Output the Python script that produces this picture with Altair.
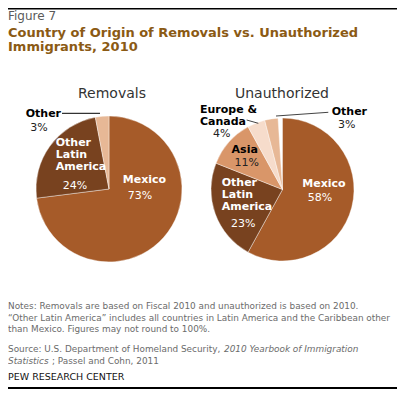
import altair as alt
import pandas as pd

# ---- data ----
rem_cats = ["Mexico", "Other Latin America", "Other"]
rem_vals = [73, 24, 3]
una_cats = ["Mexico", "Other Latin America", "Asia", "Europe & Canada", "Other"]
una_vals = [58, 23, 11, 4, 3]

color_domain = ["Mexico", "Other Latin America", "Asia", "Europe & Canada", "Other"]
color_range = ["#A65B29", "#78421F", "#D99669", "#F6DCCB", "#E7B896"]

W, H = 389, 381
FONT = "DejaVu Sans"
NS = 8.9  # notes font size

rem_df = pd.DataFrame({"cat": rem_cats, "val": rem_vals, "ord": list(range(len(rem_cats)))})
una_df = pd.DataFrame({"cat": una_cats, "val": una_vals, "ord": list(range(len(una_cats)))})

color = alt.Color("cat:N", scale=alt.Scale(domain=color_domain, range=color_range), legend=None)


def pie(df, cx, cy, r):
    return alt.Chart(df).mark_arc(radius=r, stroke="#ffffff", strokeWidth=0.4).encode(
        theta=alt.Theta("val:Q", stack=True),
        order=alt.Order("ord:Q"),
        color=color,
        x=alt.value(cx),
        y=alt.value(cy),
    )


# ---- texts ----
texts = [
    # text, x, y, size, weight, color, align, style
    ("Figure 7", 0, 12, 12, "normal", "#5a5a5a", "left", "normal"),
    ("Country of Origin of Removals vs. Unauthorized", 0, 28.5, 13, "bold", "#8B5A14", "left", "normal"),
    ("Immigrants, 2010", 0, 42.5, 13, "bold", "#8B5A14", "left", "normal"),
    ("Removals", 104, 90, 14, "normal", "#333333", "center", "normal"),
    ("Unauthorized", 274, 90, 14, "normal", "#333333", "center", "normal"),
    # removals pie
    ("Mexico", 136.5, 175, 11, "bold", "#ffffff", "center", "normal"),
    ("73%", 132, 191, 11, "normal", "#ffffff", "center", "normal"),
    ("Other", 47.7, 137.7, 11, "bold", "#ffffff", "left", "normal"),
    ("Latin", 47.7, 149.5, 11, "bold", "#ffffff", "left", "normal"),
    ("America", 47.7, 162, 11, "bold", "#ffffff", "left", "normal"),
    ("24%", 67, 180.5, 11, "normal", "#ffffff", "center", "normal"),
    ("Other", 17.7, 108.7, 11, "bold", "#000000", "left", "normal"),
    ("3%", 31, 122.7, 11, "normal", "#222222", "center", "normal"),
    # unauthorized pie
    ("Mexico", 316, 178.7, 11, "bold", "#ffffff", "center", "normal"),
    ("58%", 312, 192.7, 11, "normal", "#ffffff", "center", "normal"),
    ("Other", 213.7, 178, 11, "bold", "#ffffff", "left", "normal"),
    ("Latin", 213.7, 190.3, 11, "bold", "#ffffff", "left", "normal"),
    ("America", 213.7, 202, 11, "bold", "#ffffff", "left", "normal"),
    ("23%", 235.3, 218.7, 11, "normal", "#ffffff", "center", "normal"),
    ("Asia", 236.7, 144.7, 11, "bold", "#000000", "center", "normal"),
    ("11%", 238.7, 158, 11, "normal", "#222222", "center", "normal"),
    ("Europe &", 192, 105.3, 11, "bold", "#000000", "left", "normal"),
    ("Canada", 192, 117, 11, "bold", "#000000", "left", "normal"),
    ("4%", 213.7, 128.7, 11, "normal", "#222222", "center", "normal"),
    ("Other", 323.7, 107, 11, "bold", "#000000", "left", "normal"),
    ("3%", 338.7, 120.3, 11, "normal", "#222222", "center", "normal"),
    # notes
    ("Notes: Removals are based on Fiscal 2010 and unauthorized is based on 2010.", 0, 300.5, NS, "normal", "#6b6b6b", "left", "normal"),
    ("\u201cOther Latin America\u201d includes all countries in Latin America and the Caribbean other", 0, 312.5, NS, "normal", "#6b6b6b", "left", "normal"),
    ("than Mexico. Figures may not round to 100%.", 0, 323.5, NS, "normal", "#6b6b6b", "left", "normal"),
    ("Source:  U.S. Department of Homeland Security,", 0, 343.5, NS, "normal", "#6b6b6b", "left", "normal"),
    ("2010 Yearbook of Immigration", 216, 343.5, NS, "normal", "#6b6b6b", "left", "italic"),
    ("Statistics", 0, 355.5, NS, "normal", "#6b6b6b", "left", "italic"),
    ("; Passel and Cohn, 2011", 44, 355.5, NS, "normal", "#6b6b6b", "left", "normal"),
    ("PEW RESEARCH  CENTER", 0, 372, 9.5, "normal", "#111111", "left", "normal"),
]

layers = [pie(rem_df, 101, 181, 73), pie(una_df, 274.5, 181.5, 71.5)]

for t, x, y, s, w, c, a, st in texts:
    layers.append(
        alt.Chart(pd.DataFrame({"t": [t]})).mark_text(
            font=FONT, fontSize=s, fontWeight=w, color=c, align=a, baseline="alphabetic", fontStyle=st
        ).encode(text="t:N", x=alt.value(x), y=alt.value(y))
    )

# leader lines and rules: (x, y, x2, y2, color, width)
lines = [
    (54, 105.3, 92, 105.3, "#000000", 1),
    (238.7, 112, 250.3, 115.3, "#444444", 1),
    (268, 108, 320.3, 104.3, "#444444", 1),
    (0, 0.75, W, 0.75, "#000000", 1.5),
    (0, 380, W, 380, "#000000", 2),
]
for x1, y1, x2, y2, c, sw in lines:
    layers.append(
        alt.Chart(pd.DataFrame({"a": [0]})).mark_rule(color=c, strokeWidth=sw).encode(
            x=alt.value(x1), y=alt.value(y1), x2=alt.value(x2), y2=alt.value(y2)
        )
    )

chart = alt.layer(*layers).properties(
    width=W, height=H, autosize=alt.AutoSizeParams(type="none"), padding=0, background="#ffffff"
).configure_view(stroke=None)

chart.save("out.html", embed_options={"renderer": "svg", "actions": False})
